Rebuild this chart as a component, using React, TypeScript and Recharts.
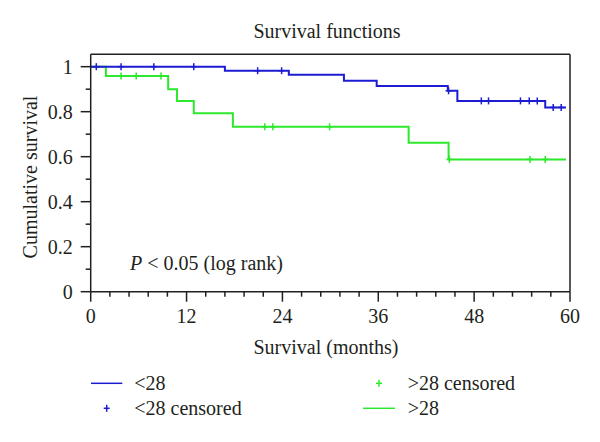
import { ComposedChart, Line, Scatter, XAxis, YAxis } from "recharts";

const FONT = '"Liberation Serif", "Times New Roman", serif';
const INK = "#231f20";
const BLUE = "#1c1cd2";
const GREEN = "#2de82d";

// <28 group: step times (months) and cumulative survival after each step
const lowTimes = [0, 16.8, 24.8, 31.7, 35.8, 44.7, 45.9, 56.9, 59.5];
const lowSurv = [1, 0.982, 0.964, 0.938, 0.914, 0.893, 0.848, 0.819, 0.819];
const lowCensTimes = [0.7, 3.8, 7.9, 12.9, 20.9, 23.9, 44.8, 48.9, 49.8, 53.8, 54.9, 55.9, 57.9, 58.9];
const lowCensSurv = [1, 1, 1, 1, 0.982, 0.982, 0.893, 0.848, 0.848, 0.848, 0.848, 0.848, 0.819, 0.819];

// >28 group
const highTimes = [0, 1.9, 9.7, 10.8, 12.9, 17.8, 39.8, 44.8, 59.5];
const highSurv = [1, 0.959, 0.9, 0.848, 0.793, 0.733, 0.662, 0.588, 0.588];
const highCensTimes = [3.8, 5.7, 8.8, 21.8, 22.8, 29.9, 44.9, 55.0, 56.9];
const highCensSurv = [0.959, 0.959, 0.959, 0.733, 0.733, 0.733, 0.588, 0.588, 0.588];

const xTicks = [0, 2.4, 4.8, 7.2, 9.6, 12, 14.4, 16.8, 19.2, 21.6, 24, 26.4, 28.8, 31.2, 33.6, 36, 38.4, 40.8, 43.2, 45.6, 48, 50.4, 52.8, 55.2, 57.6, 60];
const xLabels = [0, 12, 24, 36, 48, 60];
const yTicks = [0, 0.1, 0.2, 0.3, 0.4, 0.5, 0.6, 0.7, 0.8, 0.9, 1];
const yLabels = [0, 0.2, 0.4, 0.6, 0.8, 1];

const pair = (ts: number[], ss: number[]) => ts.map((t, i) => ({ t, s: ss[i] }));

const lowCurve = pair(lowTimes, lowSurv);
const lowCens = pair(lowCensTimes, lowCensSurv);
const highCurve = pair(highTimes, highSurv);
const highCens = pair(highCensTimes, highCensSurv);

const textStyle = { fontFamily: FONT, fontSize: 20, fill: INK };

function BottomTick({ x, y, payload }: any) {
  const major = xLabels.includes(payload.value);
  return (
    <g>
      <line x1={x} x2={x} y1={y} y2={y + (major ? 10 : 5)} stroke={INK} strokeWidth={1.5} />
      {major && (
        <text x={x} y={y + 24} textAnchor="middle" dominantBaseline="central" {...textStyle}>
          {payload.value}
        </text>
      )}
    </g>
  );
}

function TopTick({ x, y, payload }: any) {
  const major = xLabels.includes(payload.value);
  return <line x1={x} x2={x} y1={y} y2={y - (major ? 10 : 5)} stroke={INK} strokeWidth={1.5} />;
}

function LeftTick({ x, y, payload }: any) {
  const major = yLabels.includes(payload.value);
  return (
    <g>
      <line x1={x} x2={x - (major ? 10 : 5)} y1={y} y2={y} stroke={INK} strokeWidth={1.5} />
      {major && (
        <text x={x - 18} y={y} textAnchor="end" dominantBaseline="central" {...textStyle}>
          {String(payload.value)}
        </text>
      )}
    </g>
  );
}

function RightTick({ x, y, payload }: any) {
  const major = yLabels.includes(payload.value);
  return <line x1={x} x2={x + (major ? 10 : 5)} y1={y} y2={y} stroke={INK} strokeWidth={1.5} />;
}

function Cross({ cx, cy, color }: any) {
  return (
    <g stroke={color} strokeWidth={1.5}>
      <line x1={cx - 3} x2={cx + 3} y1={cy} y2={cy} />
      <line x1={cx} x2={cx} y1={cy - 3.5} y2={cy + 3.5} />
    </g>
  );
}

const axisLine = { stroke: INK, strokeWidth: 1.5 };

export default function App() {
  return (
    <div style={{ position: "absolute", left: 0, top: 0, width: 600, height: 442, background: "#fff" }}>
      <ComposedChart width={600} height={442} margin={{ top: 0, right: 0, bottom: 110.3, left: 0 }}>
        <XAxis
          xAxisId="bottom"
          dataKey="t"
          type="number"
          domain={[0, 60]}
          ticks={xTicks}
          interval={0}
          height={40}
          tickSize={0}
          tickMargin={0}
          tickLine={false}
          axisLine={axisLine}
          tick={<BottomTick />}
        />
        <XAxis
          xAxisId="top"
          orientation="top"
          type="number"
          domain={[0, 60]}
          ticks={xTicks}
          interval={0}
          height={54.3}
          tickSize={0}
          tickMargin={0}
          tickLine={false}
          axisLine={axisLine}
          tick={<TopTick />}
        />
        <YAxis
          yAxisId="left"
          dataKey="s"
          type="number"
          domain={[0, 1.055]}
          ticks={yTicks}
          interval={0}
          width={90.7}
          tickSize={0}
          tickMargin={0}
          tickLine={false}
          axisLine={axisLine}
          tick={<LeftTick />}
        />
        <YAxis
          yAxisId="right"
          orientation="right"
          type="number"
          domain={[0, 1.055]}
          ticks={yTicks}
          interval={0}
          width={30}
          tickSize={0}
          tickMargin={0}
          tickLine={false}
          axisLine={axisLine}
          tick={<RightTick />}
        />
        <Line
          xAxisId="bottom"
          yAxisId="left"
          data={highCurve}
          dataKey="s"
          type="stepAfter"
          stroke={GREEN}
          strokeWidth={2}
          dot={false}
          isAnimationActive={false}
        />
        <Line
          xAxisId="bottom"
          yAxisId="left"
          data={lowCurve}
          dataKey="s"
          type="stepAfter"
          stroke={BLUE}
          strokeWidth={2}
          dot={false}
          isAnimationActive={false}
        />
        <Scatter
          xAxisId="bottom"
          yAxisId="left"
          data={highCens}
          dataKey="s"
          shape={(p: any) => <Cross {...p} color={GREEN} />}
          isAnimationActive={false}
        />
        <Scatter
          xAxisId="bottom"
          yAxisId="left"
          data={lowCens}
          dataKey="s"
          shape={(p: any) => <Cross {...p} color={BLUE} />}
          isAnimationActive={false}
        />
      </ComposedChart>

      <svg width={600} height={442} style={{ position: "absolute", left: 0, top: 0, pointerEvents: "none" }}>
        <text x={327} y={31} textAnchor="middle" dominantBaseline="central" {...textStyle}>
          Survival functions
        </text>
        <text
          x={30}
          y={177}
          textAnchor="middle"
          dominantBaseline="central"
          transform="rotate(-90 30 177)"
          {...textStyle}
        >
          Cumulative survival
        </text>
        <text x={326} y={346.7} textAnchor="middle" dominantBaseline="central" {...textStyle}>
          Survival (months)
        </text>
        <text x={130} y={263} dominantBaseline="central" {...textStyle}>
          <tspan fontStyle="italic">P</tspan> &lt; 0.05 (log rank)
        </text>

        {/* legend */}
        <line x1={91} x2={122.3} y1={383.3} y2={383.3} stroke={BLUE} strokeWidth={1.5} />
        <text x={134.3} y={383.3} dominantBaseline="central" {...textStyle}>&lt;28</text>
        <Cross cx={106.7} cy={408.3} color={BLUE} />
        <text x={134.3} y={408.3} dominantBaseline="central" {...textStyle}>&lt;28 censored</text>
        <Cross cx={379} cy={383.3} color={GREEN} />
        <text x={407.7} y={383.3} dominantBaseline="central" {...textStyle}>&gt;28 censored</text>
        <line x1={363} x2={395} y1={408.3} y2={408.3} stroke={GREEN} strokeWidth={1.5} />
        <text x={407.7} y={408.3} dominantBaseline="central" {...textStyle}>&gt;28</text>
      </svg>
    </div>
  );
}
